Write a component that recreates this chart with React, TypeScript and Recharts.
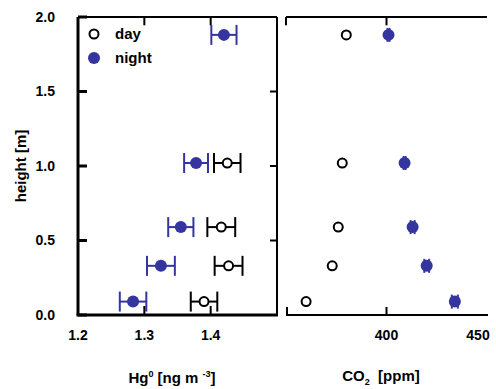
import React from 'react';
import { ScatterChart, Scatter, XAxis, YAxis, ErrorBar, ReferenceLine } from 'recharts';

const heights = [0.09, 0.33, 0.59, 1.02, 1.88];
const hgDay = [1.39, 1.427, 1.416, 1.425];
const hgDayErr = [0.02, 0.021, 0.021, 0.02];
const hgNight = [1.283, 1.325, 1.355, 1.378, 1.42];
const hgNightErr = [0.02, 0.021, 0.019, 0.018, 0.019];
const co2Day = [360, 373, 376, 378, 380];
const co2Night = [434, 420, 413, 409, 401];
const co2NightErr = [1.5, 1.2, 1, 0.5, 0.5];
const heightTicks = [0, 0.5, 1, 1.5, 2];
const hgTicks = [1.2, 1.3, 1.4, 1.5];
const co2Ticks = [350, 400, 450];

const BLUE = '#3535a0';
const FONT = '"Liberation Sans", Arial, sans-serif';

const dayHg = hgDay.map((v, i) => ({ x: v, y: heights[i], err: hgDayErr[i] }));
const nightHg = hgNight.map((v, i) => ({ x: v, y: heights[i], err: hgNightErr[i] }));
const dayCo2 = co2Day.map((v, i) => ({ x: v, y: heights[i] }));
const nightCo2 = co2Night.map((v, i) => ({ x: v, y: heights[i], err: co2NightErr[i] }));

const tickStyle = { fontSize: 14, fontWeight: 700, fill: '#000', fontFamily: FONT };

// plot boxes (page px)
const PLOT_TOP = 17;
const PLOT_BOTTOM = 315;
const HG_LEFT = 78;
const HG_RIGHT = 277;
const CO2_LEFT = 286;
const CO2_RIGHT = 487;

const OpenDot = (p: any) => (
  <circle cx={p.cx} cy={p.cy} r={4.5} fill="#fff" stroke="#000" strokeWidth={2} />
);
const FilledDot = (p: any) => <circle cx={p.cx} cy={p.cy} r={6} fill={BLUE} />;

const Co2Tick = (p: any) => {
  const v = p.payload.value;
  const dx = v === 450 ? -6 : v === 350 ? -3 : 0;
  return (
    <text x={p.x + dx} y={p.y} dy="0.71em" textAnchor="middle" {...tickStyle}>
      {v}
    </text>
  );
};

const blank = () => '';

// inner tick lengths in data units (about 8 px)
const vTick = 0.056;
const hgRightTick = 0.0106;

const hgPx = (v: number) => HG_LEFT + ((v - 1.2) / 0.3) * (HG_RIGHT - HG_LEFT);
const co2Px = (v: number) => CO2_LEFT + ((v - 350) / 100) * (CO2_RIGHT - CO2_LEFT);

export default function App() {
  return (
    <div style={{ position: 'fixed', left: 0, top: 0, width: 496, height: 389, background: '#fff', fontFamily: FONT }}>
      <div style={{ position: 'absolute', left: 0, top: 0 }}>
        <ScatterChart width={280} height={389} margin={{ top: PLOT_TOP, right: 3, left: 0, bottom: 0 }}>
          <XAxis
            type="number"
            dataKey="x"
            domain={[1.2, 1.5]}
            ticks={hgTicks}
            tickFormatter={(v: number) => (v === 1.5 ? '' : v.toFixed(1))}
            height={74}
            axisLine={false}
            tickLine={false}
            tickMargin={9}
            tick={tickStyle}
          />
          <YAxis
            type="number"
            dataKey="y"
            domain={[0, 2]}
            ticks={heightTicks}
            tickFormatter={(v: number) => v.toFixed(1)}
            width={78}
            tickSize={-9}
            tickMargin={32}
            tick={tickStyle}
            stroke="#000"
            strokeWidth={3}
          />
          <ReferenceLine y={2} stroke="#000" strokeWidth={2} ifOverflow="visible" />
          <ReferenceLine x={1.5} stroke="#000" strokeWidth={2} ifOverflow="visible" />
          {hgTicks.slice(1, 3).map((t) => (
            <ReferenceLine key={'t' + t} segment={[{ x: t, y: 2 }, { x: t, y: 2 - vTick }]} stroke="#000" strokeWidth={2} ifOverflow="visible" />
          ))}
          {heightTicks.slice(1, 4).map((t) => (
            <ReferenceLine key={'r' + t} segment={[{ x: 1.5 - hgRightTick, y: t }, { x: 1.5, y: t }]} stroke="#000" strokeWidth={2} ifOverflow="visible" />
          ))}
          <Scatter data={dayHg} shape={OpenDot} isAnimationActive={false}>
            <ErrorBar dataKey="err" direction="x" width={10} stroke="#000" strokeWidth={2} />
          </Scatter>
          <Scatter data={nightHg} shape={FilledDot} isAnimationActive={false}>
            <ErrorBar dataKey="err" direction="x" width={10} stroke={BLUE} strokeWidth={2} />
          </Scatter>
        </ScatterChart>
      </div>
      <div style={{ position: 'absolute', left: 280, top: 0 }}>
        <ScatterChart width={216} height={389} margin={{ top: PLOT_TOP, right: 9, left: 6, bottom: 0 }}>
          <XAxis
            type="number"
            dataKey="x"
            domain={[350, 450]}
            ticks={co2Ticks}
            height={74}
            axisLine={false}
            tickLine={false}
            tickMargin={9}
            tick={<Co2Tick />}
          />
          <YAxis
            type="number"
            dataKey="y"
            orientation="right"
            domain={[0, 2]}
            ticks={heightTicks}
            tickFormatter={blank}
            width={0}
            tickSize={-7}
            stroke="#000"
            strokeWidth={2}
          />
          <ReferenceLine y={2} stroke="#000" strokeWidth={2} ifOverflow="visible" />
          {co2Ticks.slice(0, 2).map((t) => (
            <ReferenceLine key={'t' + t} segment={[{ x: t, y: 2 }, { x: t, y: 2 - vTick }]} stroke="#000" strokeWidth={2} ifOverflow="visible" />
          ))}
          <Scatter data={dayCo2} shape={OpenDot} isAnimationActive={false} />
          <Scatter data={nightCo2} shape={FilledDot} isAnimationActive={false}>
            <ErrorBar dataKey="err" direction="x" width={7} stroke={BLUE} strokeWidth={2} />
          </Scatter>
        </ScatterChart>
      </div>

      {/* bottom frame lines with inward ticks */}
      <svg width={496} height={389} style={{ position: 'absolute', left: 0, top: 0, pointerEvents: 'none' }}>
        <line x1={HG_LEFT - 1.5} x2={HG_RIGHT + 1} y1={PLOT_BOTTOM} y2={PLOT_BOTTOM} stroke="#000" strokeWidth={3} />
        {hgTicks.slice(1, 3).map((t) => (
          <line key={'hb' + t} x1={hgPx(t)} x2={hgPx(t)} y1={PLOT_BOTTOM} y2={PLOT_BOTTOM - 9} stroke="#000" strokeWidth={2} />
        ))}
        <line x1={CO2_LEFT} x2={CO2_RIGHT + 1} y1={PLOT_BOTTOM} y2={PLOT_BOTTOM} stroke="#000" strokeWidth={2} />
        {co2Ticks.slice(0, 2).map((t) => (
          <line key={'cb' + t} x1={co2Px(t) + (t === 350 ? 1 : 0)} x2={co2Px(t) + (t === 350 ? 1 : 0)} y1={PLOT_BOTTOM} y2={PLOT_BOTTOM - 8} stroke="#000" strokeWidth={2} />
        ))}
      </svg>

      {/* legend */}
      <div style={{ position: 'absolute', left: 87, top: 22, fontSize: 15, fontWeight: 700, lineHeight: '24px' }}>
        <div style={{ display: 'flex', alignItems: 'center' }}>
          <svg width={14} height={14} style={{ marginRight: 14 }}>
            <circle cx={7} cy={7} r={4.5} fill="#fff" stroke="#000" strokeWidth={2} />
          </svg>
          day
        </div>
        <div style={{ display: 'flex', alignItems: 'center' }}>
          <svg width={14} height={14} style={{ marginRight: 14 }}>
            <circle cx={7} cy={7} r={6} fill={BLUE} />
          </svg>
          night
        </div>
      </div>

      {/* axis titles */}
      <div
        style={{
          position: 'absolute',
          left: 20,
          top: 166,
          transform: 'translate(-50%, -50%) rotate(-90deg)',
          fontSize: 15,
          fontWeight: 700,
          whiteSpace: 'nowrap',
        }}
      >
        height [m]
      </div>
      <div style={{ position: 'absolute', left: 172, top: 377, transform: 'translate(-50%, -50%)', fontSize: 15, fontWeight: 700, whiteSpace: 'nowrap' }}>
        Hg<sup style={{ fontSize: 9 }}>0</sup> [ng m <sup style={{ fontSize: 9 }}>-3</sup>]
      </div>
      <div style={{ position: 'absolute', left: 381, top: 377, transform: 'translate(-50%, -50%)', fontSize: 15, fontWeight: 700, whiteSpace: 'nowrap' }}>
        CO<sub style={{ fontSize: 9 }}>2</sub> &nbsp;[ppm]
      </div>
    </div>
  );
}
